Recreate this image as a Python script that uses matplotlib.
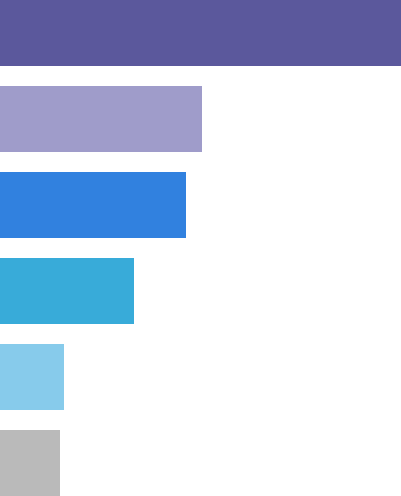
import matplotlib
matplotlib.use("Agg")
import matplotlib.pyplot as plt

categories = ["A", "B", "C", "D", "E", "F"]
values = [402, 202, 186, 134, 64, 60]
colors = ["#5B589C", "#9F9CCA", "#3181DF", "#38ABD9", "#87CBEB", "#BABABA"]

fig = plt.figure(figsize=(4.02, 4.96), dpi=100)
ax = fig.add_axes([0, 0, 1, 1])

pos = list(range(len(categories)))
ax.barh(pos, values, height=66 / 86, color=colors, linewidth=0)

ax.set_xlim(0, max(values))
ax.set_ylim(len(categories) - 1 + 33 / 86, -33 / 86)
ax.axis("off")

fig.savefig("out.png", dpi=100)
